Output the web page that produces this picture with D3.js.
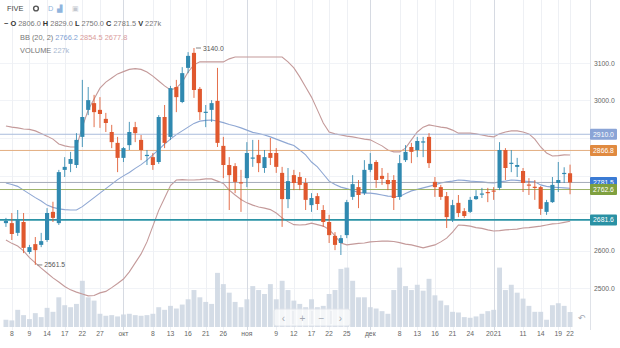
<!DOCTYPE html>
<html>
<head>
<meta charset="utf-8">
<script src="https://cdnjs.cloudflare.com/ajax/libs/d3/7.8.5/d3.min.js"></script>
<style>
  html, body { margin: 0; padding: 0; background: #fff; }
  svg { display: block; font-family: "Liberation Sans", Arial, sans-serif; }
</style>
</head>
<body>
<svg id="chart" width="620" height="348"></svg>
<script>
// FIVE daily candles, Sep 2020 – Jan 2021
const opens  = [2673,2673,2647,2676,2596,2617,2615,2628,2703,2673,2815,2831,2828,2903,2975,2993,2975,2951,2916,2887,
                2847,2881,2929,2895,2853,2849,2836,2956,2903,3036,2996,3087,3127,3031,2968,2975,2999,2879,2828,2825,
                2782,2793,2846,2855,2820,2860,2860,2807,2737,2801,2796,2780,2721,2745,2708,2676,2639,2620,2641,2743,
                2769,2753,2815,2836,2799,2788,2788,2743,2841,2876,2868,2890,2903,2783,2769,2745,2684,2727,2705,2703,
                2737,2750,2756,2760,2767,2868,2832,2823,2812,2776,2770,2769,2703,2729,2780,2804,2806];
const highs  = [2687,2700,2708,2700,2615,2636,2647,2713,2730,2815,2849,2863,2913,3055,3036,3015,3009,2967,2935,2903,
                2876,2943,2943,2908,2868,2860,2961,2988,3039,3055,3089,3129,3140,3036,2988,3001,3087,2903,2849,2833,
                2815,2889,2895,2895,2868,2900,2873,2823,2820,2815,2809,2793,2753,2753,2721,2695,2649,2641,2735,2801,
                2788,2841,2860,2841,2820,2807,2801,2855,2881,2887,2903,2903,2913,2796,2775,2756,2735,2748,2713,2743,
                2761,2767,2767,2769,2889,2873,2868,2847,2820,2793,2788,2772,2735,2796,2836,2822,2829];
const lows   = [2663,2628,2639,2593,2591,2561.5,2609,2623,2676,2668,2796,2809,2820,2876,2961,2929,2927,2916,2873,2809,
                2836,2868,2889,2841,2828,2815,2831,2873,2895,2969,2993,3073,3007,2948,2929,2943,2876,2793,2708,2753,
                2703,2769,2823,2809,2807,2828,2807,2663,2713,2761,2761,2708,2703,2708,2663,2620,2601,2588,2633,2735,
                2713,2748,2809,2767,2775,2761,2708,2735,2836,2833,2849,2849,2820,2743,2735,2660,2676,2689,2687,2700,
                2735,2740,2729,2735,2761,2788,2809,2796,2756,2748,2735,2695,2695,2727,2756,2780,2750];
const closes = [2679,2644,2681,2607,2609,2601,2625,2700,2687,2809,2823,2844,2895,2956,3001,2969,2964,2940,2889,2847,
                2873,2916,2913,2868,2855,2828,2956,2887,3033,3009,3073,3119,3028,2969,2970,2993,2887,2828,2801,2783,
                2779,2860,2848,2833,2849,2847,2823,2737,2785,2780,2775,2735,2740,2724,2676,2641,2615,2633,2729,2777,
                2748,2815,2831,2788,2791,2777,2740,2833,2863,2863,2892,2891,2833,2769,2743,2689,2721,2700,2692,2735,
                2745,2752,2753,2758,2868,2820,2834,2828,2780,2774,2768,2711,2729,2775,2788,2807,2781.5];
// volume, thousands of shares
const volumes = [110,100,260,180,120,210,150,290,230,450,330,300,350,700,450,400,200,170,180,160,
                 190,200,180,170,180,200,300,260,320,280,340,420,560,450,380,350,820,650,520,380,
                 300,420,620,560,500,650,420,700,560,400,350,300,420,300,320,500,560,880,900,700,
                 450,450,300,280,240,200,560,900,620,560,640,550,730,480,400,330,230,220,150,140,
                 160,200,240,260,900,560,640,520,430,320,230,230,110,330,360,320,227];
// Bollinger Bands (20, 2)
const bbUpper = [2932,2929,2927,2924,2923,2919,2912,2905,2897,2884,2879,2876,2876,2929,2975,3004,3033,3049,3060,3071,
                 3077,3083,3085,3083,3076,3065,3052,3039,3028,3033,3049,3076,3095,3103,3103,3103,3103,3103,3111,3116,
                 3116,3116,3116,3116,3116,3116,3116,3116,3103,3087,3063,3036,3009,2975,2940,2916,2911,2908,2905,2903,
                 2900,2897,2895,2887,2879,2868,2863,2863,2873,2895,2916,2929,2935,2932,2929,2927,2921,2913,2913,2913,
                 2911,2908,2905,2903,2911,2916,2919,2919,2916,2911,2897,2876,2860,2852,2853,2855,2854.5];
const bbMid   = [2780,2776,2771,2761,2751,2741,2732,2721,2715,2711,2709,2708,2708,2717,2729,2741,2753,2765,2777,2789,
                 2799,2808,2819,2829,2841,2855,2869,2884,2897,2909,2919,2929,2939,2945,2947,2948,2945,2941,2936,2932,
                 2927,2921,2915,2912,2908,2903,2897,2891,2885,2880,2868,2855,2836,2823,2804,2785,2776,2769,2765,2760,
                 2755,2753,2753,2751,2748,2745,2744,2744,2752,2759,2763,2767,2771,2775,2780,2783,2785,2788,2787,2785,
                 2784,2783,2781,2780,2783,2785,2788,2787,2785,2784,2783,2775,2771,2769,2768,2767,2766.2];
const bbLower = [2628,2619,2612,2599,2581,2567,2553,2540,2527,2516,2504,2495,2489,2484,2479,2480,2487,2491,2501,2512,
                 2524,2543,2567,2591,2623,2665,2707,2740,2773,2788,2789,2788,2788,2789,2791,2791,2785,2779,2761,2748,
                 2736,2727,2721,2716,2713,2709,2700,2687,2677,2669,2668,2669,2673,2669,2665,2656,2639,2620,2615,2617,
                 2619,2620,2623,2624,2625,2625,2624,2621,2617,2615,2611,2607,2611,2615,2623,2633,2649,2668,2667,2665,
                 2661,2659,2655,2652,2653,2655,2656,2657,2660,2661,2663,2665,2668,2671,2672,2675,2677.8];

// date axis labels and the candle each one sits under
const tickLabels = ["8","9","14","17","22","27","окт","8","13","16","21","26","ноя","9","12","17","22","25",
                    "дек","8","13","16","21","24","2021","11","14","19","22"];
const tickIndex  = [1,4,7,10,13,16,20,25,28,31,34,37,41,46,49,52,55,58,62,67,70,73,76,79,83,88,91,94,96];
const monthLabels = ["окт","ноя","дек","2021"];

// price levels drawn across the chart, with their axis badges
const levelValues = [2910.0, 2866.8, 2781.5, 2762.6, 2681.6];
const levelLine   = ["#a9bcdc", "#e3ae80", "#a4abb8", "#9eb36a", "#2b93a6"];
const levelBadge  = ["#8aa4d6", "#e08a40", "#3b7bd4", "#7fa03f", "#2a91a4"];
const levelWidth  = [1, 1, 1, 1, 1.6];

const priceTicks = [2500, 2600, 2700, 2800, 2900, 3000, 3100];

const N = opens.length;
const svg = d3.select("#chart");
const W = 620, H = 348;
const plotRight = 590;

svg.append("rect").attr("width", W).attr("height", H).attr("fill", "#fff");

const x = d3.scaleBand().domain(d3.range(N)).range([3, 573]).paddingInner(0.3).paddingOuter(0.15);
const cx = i => x(i) + x.bandwidth() / 2;
const y = d3.scaleLinear().domain([2500, 3100]).range([288, 63]);
const yv = d3.scaleLinear().domain([0, 1000]).range([327, 261]);

const clip = svg.append("defs").append("clipPath").attr("id", "plot");
clip.append("rect").attr("x", 0).attr("y", 0).attr("width", plotRight).attr("height", 330);

const plot = svg.append("g").attr("clip-path", "url(#plot)");

// grid
plot.append("g").selectAll("line").data(priceTicks).join("line")
  .attr("x1", 0).attr("x2", plotRight)
  .attr("y1", d => Math.round(y(d)) + 0.5).attr("y2", d => Math.round(y(d)) + 0.5)
  .attr("stroke", "#f1f3f7").attr("stroke-width", 1);
plot.append("g").selectAll("line").data(tickIndex).join("line")
  .attr("x1", d => Math.round(cx(d)) + 0.5).attr("x2", d => Math.round(cx(d)) + 0.5)
  .attr("y1", 0).attr("y2", 330)
  .attr("stroke", (d, k) => monthLabels.includes(tickLabels[k]) ? "#d6dae2" : "#eef0f4")
  .attr("stroke-width", 1);

// volume
plot.append("g").selectAll("rect").data(volumes).join("rect")
  .attr("x", (d, i) => x(i) - 0.4)
  .attr("width", x.bandwidth() + 0.8)
  .attr("y", d => yv(d))
  .attr("height", d => yv(0) - yv(d))
  .attr("fill", "#cdd6e2").attr("opacity", 0.85);

// Bollinger bands
const bandLine = d3.line().x((d, i) => cx(i)).y(d => y(d)).curve(d3.curveLinear);
plot.append("path").attr("d", bandLine(bbUpper)).attr("fill", "none").attr("stroke", "#c49a9a").attr("stroke-width", 1.1);
plot.append("path").attr("d", bandLine(bbLower)).attr("fill", "none").attr("stroke", "#c49a9a").attr("stroke-width", 1.1);
plot.append("path").attr("d", bandLine(bbMid)).attr("fill", "none").attr("stroke", "#8ea7d3").attr("stroke-width", 1.1);

// horizontal price levels
plot.append("g").selectAll("line").data(levelValues).join("line")
  .attr("x1", 0).attr("x2", plotRight)
  .attr("y1", d => y(d)).attr("y2", d => y(d))
  .attr("stroke", (d, k) => levelLine[k]).attr("stroke-width", (d, k) => levelWidth[k]);

// candles
const UP = "#3089b0", DOWN = "#e0582e";
const colorOf = i => closes[i] >= opens[i] ? UP : DOWN;
const candles = plot.append("g").selectAll("g").data(d3.range(N)).join("g");
candles.append("line")
  .attr("x1", i => cx(i)).attr("x2", i => cx(i))
  .attr("y1", i => y(highs[i])).attr("y2", i => y(lows[i]))
  .attr("stroke", colorOf).attr("stroke-width", 1).attr("opacity", 0.85);
candles.append("rect")
  .attr("x", i => x(i))
  .attr("width", x.bandwidth())
  .attr("y", i => y(Math.max(opens[i], closes[i])))
  .attr("height", i => Math.max(1.2, Math.abs(y(opens[i]) - y(closes[i]))))
  .attr("fill", colorOf);

// high / low markers
const hiIdx = d3.maxIndex(highs), loIdx = d3.minIndex(lows);
[[hiIdx, highs[hiIdx]], [loIdx, lows[loIdx]]].forEach(([i, v]) => {
  const px = cx(i) + 2, py = y(v);
  svg.append("line").attr("x1", px).attr("x2", px + 5).attr("y1", py).attr("y2", py)
    .attr("stroke", "#666").attr("stroke-width", 0.8);
  svg.append("text").attr("x", px + 7).attr("y", py + 2.5)
    .attr("font-size", 6.8).attr("fill", "#555").text(v.toFixed(1));
});

// right price axis: tick labels that would sit under a level badge are left out
svg.append("line").attr("x1", plotRight + 0.5).attr("x2", plotRight + 0.5).attr("y1", 0).attr("y2", 330)
  .attr("stroke", "#dfe2e8");
const freeTicks = priceTicks.filter(t => levelValues.every(v => Math.abs(y(v) - y(t)) > 11));
svg.append("g").selectAll("text").data(freeTicks).join("text")
  .attr("x", 594).attr("y", d => y(d) + 2.5)
  .attr("font-size", 6.8).attr("fill", "#666").text(d => d.toFixed(1));

const badges = svg.append("g").selectAll("g").data(levelValues).join("g")
  .attr("transform", d => `translate(${plotRight},${y(d)})`);
badges.append("rect").attr("x", 0).attr("y", -5.5).attr("width", 27).attr("height", 11).attr("rx", 1)
  .attr("fill", (d, k) => levelBadge[k]);
badges.append("text").attr("x", 13.5).attr("y", 2.5).attr("text-anchor", "middle")
  .attr("font-size", 6.8).attr("fill", "#fff").text(d => d.toFixed(1));

// date axis
svg.append("g").selectAll("text").data(tickIndex).join("text")
  .attr("x", d => cx(d)).attr("y", 336).attr("text-anchor", "middle")
  .attr("font-size", 6.8).attr("fill", "#666")
  .text((d, k) => tickLabels[k]);

// navigation buttons
const navGlyphs = ["‹", "+", "−", "›"];
const nav = svg.append("g").attr("transform", "translate(274,309)");
nav.append("rect").attr("width", 76).attr("height", 17).attr("rx", 2)
  .attr("fill", "#fff").attr("opacity", 0.75).attr("stroke", "#e3e6ec");
nav.selectAll("text").data(navGlyphs).join("text")
  .attr("x", (d, k) => 9.5 + k * 19).attr("y", 12.5).attr("text-anchor", "middle")
  .attr("font-size", 10).attr("fill", "#a3a8b2").text(d => d);
nav.selectAll("line.sep").data([1, 2, 3]).join("line").attr("class", "sep")
  .attr("x1", k => k * 19).attr("x2", k => k * 19).attr("y1", 2).attr("y2", 15)
  .attr("stroke", "#e3e6ec");
const reset = svg.append("g").attr("transform", "translate(574,309)");
reset.append("rect").attr("width", 16).attr("height", 17).attr("fill", "#fff").attr("opacity", 0.8);
reset.append("text").attr("x", 8).attr("y", 12).attr("text-anchor", "middle")
  .attr("font-size", 9).attr("fill", "#a3a8b2").text("↶");

// legend
const legend = svg.append("g").attr("font-size", 7.4);
legend.append("text").attr("x", 7).attr("y", 11).attr("fill", "#444").text("FIVE");
legend.append("circle").attr("cx", 36).attr("cy", 8.5).attr("r", 2.4).attr("fill", "none").attr("stroke", "#555").attr("stroke-width", 1.4);
legend.append("text").attr("x", 48).attr("y", 11).attr("fill", "#8fb4dd").text("D");
legend.append("text").attr("x", 57).attr("y", 11).attr("fill", "#8fb4dd").text("▟");
legend.append("text").attr("x", 72).attr("y", 11).attr("fill", "#c4c8cf").text("▣");

const ohlcRow = legend.append("text").attr("x", 4).attr("y", 26).attr("fill", "#777");
ohlcRow.append("tspan").attr("fill", "#444").attr("font-weight", "bold").text("−  ");
[["O", opens[N - 1]], ["H", highs[N - 1]], ["L", lows[N - 1]], ["C", closes[N - 1]]].forEach(([k, v]) => {
  ohlcRow.append("tspan").attr("fill", "#333").attr("font-weight", "bold").text(k + " ");
  ohlcRow.append("tspan").text(v.toFixed(1) + "  ");
});
ohlcRow.append("tspan").attr("fill", "#333").attr("font-weight", "bold").text("V ");
ohlcRow.append("tspan").text(volumes[N - 1] + "k");

const bbRow = legend.append("text").attr("x", 20).attr("y", 40).attr("fill", "#777");
bbRow.append("tspan").text("BB (20, 2)  ");
bbRow.append("tspan").attr("fill", "#7f9fd4").text(bbMid[N - 1].toFixed(1) + "  ");
bbRow.append("tspan").attr("fill", "#d99a9a").text(bbUpper[N - 1].toFixed(1) + "  ");
bbRow.append("tspan").attr("fill", "#d99a9a").text(bbLower[N - 1].toFixed(1));

const volRow = legend.append("text").attr("x", 20).attr("y", 53).attr("fill", "#777");
volRow.append("tspan").text("VOLUME  ");
volRow.append("tspan").attr("fill", "#a8b8cf").text(volumes[N - 1] + "k");
</script>
</body>
</html>
